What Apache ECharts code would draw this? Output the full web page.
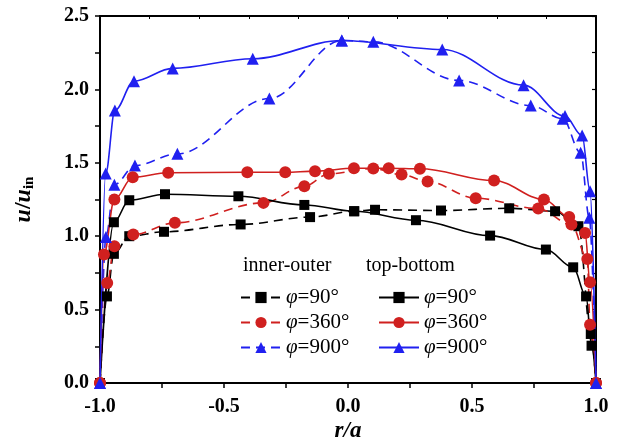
<!DOCTYPE html>
<html>
<head>
<meta charset="utf-8">
<script src="https://cdn.jsdelivr.net/npm/echarts@6/dist/echarts.min.js"></script>
<style>html,body{margin:0;padding:0;background:#fff}#c{width:621px;height:447px}</style>
</head>
<body>
<div id="c"></div>
<script>
// inner-outer (dashed)
const ioR90 = [-1.0, -0.972, -0.944, -0.882, -0.742, -0.433, -0.153, 0.025, 0.109, 0.375, 0.650, 0.835, 0.929, 0.979, 1.0];
const ioU90 = [0.0, 0.59, 0.88, 1.00, 1.03, 1.08, 1.13, 1.17, 1.18, 1.175, 1.19, 1.17, 1.068, 0.334, 0.0];
const ioR360 = [-1.0, -0.971, -0.942, -0.866, -0.698, -0.341, -0.176, -0.077, 0.102, 0.216, 0.321, 0.515, 0.767, 0.901, 0.965, 0.976, 1.0];
const ioU360 = [0.0, 0.682, 0.932, 1.011, 1.091, 1.227, 1.340, 1.425, 1.461, 1.420, 1.372, 1.259, 1.188, 1.079, 0.845, 0.397, 0.0];
const ioR900 = [-1.0, -0.976, -0.942, -0.859, -0.688, -0.317, -0.025, 0.102, 0.448, 0.737, 0.866, 0.938, 0.973, 1.0];
const ioU900 = [0.0, 0.995, 1.350, 1.481, 1.561, 1.938, 2.333, 2.324, 2.061, 1.890, 1.800, 1.568, 1.125, 0.0];
// top-bottom (solid)
const tbR90 = [-1.0, -0.944, -0.882, -0.738, -0.442, -0.176, 0.025, 0.274, 0.573, 0.798, 0.908, 0.960, 0.982, 1.0];
const tbU90 = [0.0, 1.095, 1.245, 1.286, 1.272, 1.213, 1.170, 1.109, 1.004, 0.909, 0.788, 0.590, 0.254, 0.0];
const tbR360 = [-1.0, -0.984, -0.942, -0.868, -0.725, -0.406, -0.253, -0.133, 0.024, 0.164, 0.290, 0.589, 0.790, 0.892, 0.956, 0.976, 1.0];
const tbU360 = [0.0, 0.875, 1.25, 1.402, 1.432, 1.436, 1.436, 1.443, 1.463, 1.463, 1.459, 1.379, 1.250, 1.131, 1.022, 0.686, 0.0];
const tbR900 = [-1.0, -0.977, -0.940, -0.863, -0.707, -0.384, -0.025, 0.380, 0.708, 0.875, 0.944, 0.976, 1.0];
const tbU900 = [0.0, 1.427, 1.856, 2.056, 2.143, 2.209, 2.333, 2.272, 2.029, 1.818, 1.686, 1.306, 0.0];

const phiLabels = {'90': '90°', '360': '360°', '900': '900°'};
const groupHeaders = ['inner-outer', 'top-bottom'];

const BLACK = '#000000', RED = '#d0201f', BLUE = '#2020f0';
const FONT = '"Liberation Serif", "Times New Roman", serif';

function zip(r, u) { return r.map((x, i) => [x, u[i]]); }
function mk(name, r, u, color, symbol, size, dashed) {
  return {
    name: name, type: 'line', data: zip(r, u),
    xAxisIndex: 0, yAxisIndex: 0,
    smooth: 0.35, smoothMonotone: 'x',
    symbol: symbol, symbolSize: size, showAllSymbol: true,
    lineStyle: { color: color, width: 1.6, type: dashed ? [9, 6] : 'solid' },
    itemStyle: { color: color, borderWidth: 0 },
    emphasis: { disabled: true }, animation: false, z: 3
  };
}
const series = [
  mk('io90', ioR90, ioU90, BLACK, 'rect', 10, true),
  mk('io360', ioR360, ioU360, RED, 'circle', 12, true),
  mk('io900', ioR900, ioU900, BLUE, 'triangle', 12, true),
  mk('tb90', tbR90, tbU90, BLACK, 'rect', 10, false),
  mk('tb360', tbR360, tbU360, RED, 'circle', 12, false),
  mk('tb900', tbR900, tbU900, BLUE, 'triangle', 12, false)
];

const legendFmt = function (name) { return '{p|φ}=' + phiLabels[name.replace(/^(io|tb)/, '')]; };
const legendText = { fontFamily: FONT, fontSize: 21, color: '#000', lineHeight: 21, rich: { p: { fontFamily: FONT, fontSize: 21, fontStyle: 'italic', lineHeight: 21 } } };

const axisLine = { show: true, onZero: false, lineStyle: { color: '#000', width: 2 } };
const labelStyle = { fontFamily: FONT, fontSize: 20, fontWeight: 'bold', color: '#000' };

const option = {
  animation: false,
  backgroundColor: '#fff',
  grid: { left: 100, right: 25, top: 16, bottom: 64, containLabel: false, outerBoundsMode: 'none' },
  xAxis: [
    { type: 'value', position: 'bottom', min: -1, max: 1, interval: 0.5,
      axisLine: axisLine, splitLine: { show: false },
      axisTick: { show: true, inside: false, length: 5, lineStyle: { color: '#000', width: 1.5 } },
      minorTick: { show: true, splitNumber: 2, length: 5, lineStyle: { color: '#000', width: 1.5 } },
      axisLabel: Object.assign({ margin: 14, formatter: v => v.toFixed(1) }, labelStyle),
      name: '{i|r}/{i|a}', nameLocation: 'middle', nameGap: 37, nameMoveOverlap: false,
      nameTextStyle: { fontFamily: FONT, fontSize: 23, fontWeight: 'bold', fontStyle: 'italic', color: '#000',
        rich: { i: { fontFamily: FONT, fontSize: 23, fontWeight: 'bold', fontStyle: 'italic' } } } },
    { type: 'value', position: 'top', min: -1, max: 1, interval: 0.2,
      axisLine: axisLine, splitLine: { show: false }, axisLabel: { show: false },
      axisTick: { show: true, inside: true, length: 3, lineStyle: { color: '#000', width: 1 } } }
  ],
  yAxis: [
    { type: 'value', position: 'left', min: 0, max: 2.5, interval: 0.5,
      axisLine: axisLine, splitLine: { show: false },
      axisTick: { show: true, inside: false, length: 5, lineStyle: { color: '#000', width: 1.5 } },
      minorTick: { show: true, splitNumber: 2, length: 5, lineStyle: { color: '#000', width: 1.5 } },
      axisLabel: Object.assign({ margin: 11, formatter: v => v.toFixed(1) }, labelStyle),
      name: '{i|u}/{i|u}{s|in}', nameLocation: 'middle', nameGap: 63, nameRotate: 90,
      nameTextStyle: { fontFamily: FONT, fontSize: 24, fontWeight: 'bold', color: '#000',
        rich: { i: { fontFamily: FONT, fontSize: 24, fontWeight: 'bold', fontStyle: 'italic' },
                s: { fontFamily: FONT, fontSize: 15, fontWeight: 'bold', padding: [11, 0, 0, 0] } } } },
    { type: 'value', position: 'right', min: 0, max: 2.5, interval: 0.25,
      axisLine: axisLine, splitLine: { show: false }, axisLabel: { show: false },
      axisTick: { show: true, inside: true, length: 4, lineStyle: { color: '#000', width: 1.2 } } }
  ],
  legend: [
    { data: ['io90', 'io360', 'io900'], orient: 'vertical', left: 240, top: 287,
      itemWidth: 40, itemHeight: 14, itemGap: 4, formatter: legendFmt, textStyle: legendText,
      selectedMode: false, padding: 0 },
    { data: ['tb90', 'tb360', 'tb900'], orient: 'vertical', left: 378, top: 287,
      itemWidth: 40, itemHeight: 14, itemGap: 4, formatter: legendFmt, textStyle: legendText,
      selectedMode: false, padding: 0 }
  ],
  graphic: [
    { type: 'text', left: 243, top: 256, style: { text: groupHeaders[0], font: '20px ' + FONT, fill: '#000' } },
    { type: 'text', left: 366, top: 256, style: { text: groupHeaders[1], font: '20px ' + FONT, fill: '#000' } }
  ],
  series: series
};
const chart = echarts.init(document.getElementById('c'), null, { renderer: 'canvas' });
chart.setOption(option);
</script>
</body>
</html>
